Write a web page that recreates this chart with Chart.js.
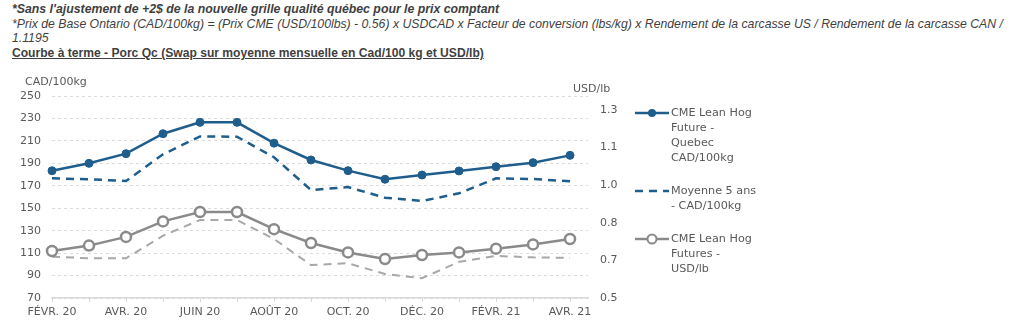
<!DOCTYPE html>
<html>
<head>
<meta charset="utf-8">
<script src="https://cdn.jsdelivr.net/npm/chart.js@4/dist/chart.umd.min.js"></script>
<style>
  body { margin: 0; background: #fff; width: 1024px; height: 330px; overflow: hidden; position: relative; }
  .note { position: absolute; left: 12px; font-family: "Liberation Sans", Arial, sans-serif; color: #3f3f3f; white-space: nowrap; }
  #n1 { top: 2px; font-size: 12.3px; font-weight: bold; font-style: italic; }
  #n2 { top: 17px; font-size: 12.25px; font-style: italic; }
  #n3 { top: 31px; font-size: 12.25px; font-style: italic; }
  #ttl { top: 46px; font-size: 12.1px; font-weight: bold; text-decoration: underline; }
  #wrap { position: absolute; left: 0; top: 60px; width: 1024px; height: 270px; }
</style>
</head>
<body>
<div class="note" id="n1">*Sans l'ajustement de +2$ de la nouvelle grille qualité québec pour le prix comptant</div>
<div class="note" id="n2">*Prix de Base Ontario (CAD/100kg) = (Prix CME (USD/100lbs) - 0.56) x USDCAD x Facteur de conversion (lbs/kg) x Rendement de la carcasse US / Rendement de la carcasse CAN /</div>
<div class="note" id="n3">1.1195</div>
<div class="note" id="ttl">Courbe à terme - Porc Qc (Swap sur moyenne mensuelle en Cad/100 kg et USD/lb)</div>
<div id="wrap"><canvas id="myChart"></canvas></div>
<script>
// months of the forward curve
var months = ['FÉVR. 20', 'MARS 20', 'AVR. 20', 'MAI 20', 'JUIN 20', 'JUIL. 20', 'AOÛT 20', 'SEPT. 20',
  'OCT. 20', 'NOV. 20', 'DÉC. 20', 'JANV. 21', 'FÉVR. 21', 'MARS 21', 'AVR. 21'];

// CAD/100kg
var hogCad = [183.4, 190, 198.6, 216.4, 226.5, 226.5, 208, 193, 183.5, 175.8, 179.6, 183.2, 187, 190.6, 197.1];
var avg5Cad = [176.6, 175.8, 174.3, 198, 214, 213.7, 195.4, 166.2, 168.8, 159.4, 156.4, 163.3, 176.6, 176, 174];

// USD/lb
var hogUsd = [0.700, 0.723, 0.760, 0.826, 0.866, 0.866, 0.793, 0.734, 0.694, 0.666, 0.683, 0.694, 0.710, 0.728, 0.751];
var avg5Usd = [0.676, 0.669, 0.669, 0.765, 0.832, 0.832, 0.751, 0.640, 0.648, 0.602, 0.584, 0.654, 0.679, 0.673, 0.671];

// axis ticks
var cadTicks = [70, 90, 110, 130, 150, 170, 190, 210, 230, 250];
var usdTicks = [0.5, 0.66, 0.82, 0.98, 1.14, 1.3];

var BLUE = '#1f5d8c';
var GREY = '#8a8a8a';
var GREY_DASH = '#a8a8a8';
var TXT = '#595959';

function pts(arr) {
  return arr.map(function(v, i) { return { x: i, y: v }; });
}

// axis titles above the plot + wrapped legend on the right
var extras = {
  id: 'extras',
  afterDraw: function(chart) {
    var c = chart.ctx;
    var a = chart.chartArea;
    c.save();
    c.fillStyle = TXT;
    c.font = '11px "DejaVu Sans"';
    c.textBaseline = 'middle';
    c.textAlign = 'left';
    c.fillText('CAD/100kg', 25, a.top - 14);
    c.fillText('USD/lb', a.right - 15, a.top - 7);

    var y = a.top + 17;
    chart.data.datasets.forEach(function(ds) {
      if (!ds.legendLines) return;
      var x0 = a.right + 47, x1 = a.right + 81;
      c.strokeStyle = ds.borderColor;
      c.lineWidth = 2.5;
      c.setLineDash(ds.borderDash || []);
      c.beginPath();
      c.moveTo(x0, y);
      c.lineTo(x1, y);
      c.stroke();
      c.setLineDash([]);
      if (ds.pointRadius) {
        c.beginPath();
        c.arc(x0 + 17, y, ds.legendDot, 0, Math.PI * 2);
        c.fillStyle = ds.pointBackgroundColor;
        c.fill();
        c.lineWidth = 2;
        c.strokeStyle = ds.pointBorderColor;
        c.stroke();
      }
      c.fillStyle = TXT;
      c.font = '11.2px "DejaVu Sans"';
      ds.legendLines.forEach(function(t, k) {
        c.fillText(t, x1 + 2, y + k * 15);
      });
      y += ds.legendLines.length * 15 + 18;
    });
    c.restore();
  }
};

Chart.defaults.font.family = '"DejaVu Sans"';
Chart.defaults.font.size = 11;
Chart.defaults.color = TXT;

var ctx = document.getElementById('myChart').getContext('2d');
var chart = new Chart(ctx, {
  type: 'line',
  data: {
    datasets: [
      {
        label: 'CME Lean Hog Future - Quebec CAD/100kg',
        legendLines: ['CME Lean Hog', 'Future -', 'Quebec', 'CAD/100kg'],
        legendDot: 3,
        data: pts(hogCad),
        yAxisID: 'yCad',
        borderColor: BLUE,
        borderWidth: 2.5,
        pointRadius: 4,
        pointBackgroundColor: BLUE,
        pointBorderColor: BLUE,
        pointBorderWidth: 1,
        clip: false
      },
      {
        label: 'Moyenne 5 ans - CAD/100kg',
        legendLines: ['Moyenne 5 ans', '- CAD/100kg'],
        data: pts(avg5Cad),
        yAxisID: 'yCad',
        borderColor: BLUE,
        borderWidth: 2.5,
        borderDash: [8, 6],
        pointRadius: 0,
        clip: false
      },
      {
        label: 'CME Lean Hog Futures - USD/lb',
        legendLines: ['CME Lean Hog', 'Futures -', 'USD/lb'],
        legendDot: 4.5,
        data: pts(hogUsd),
        yAxisID: 'yUsd',
        borderColor: GREY,
        borderWidth: 2.5,
        pointRadius: 5,
        pointBackgroundColor: '#fff',
        pointBorderColor: GREY,
        pointBorderWidth: 2.5,
        clip: false
      },
      {
        label: 'Moyenne 5 ans - USD/lb',
        data: pts(avg5Usd),
        yAxisID: 'yUsd',
        borderColor: GREY_DASH,
        borderWidth: 2,
        borderDash: [8, 6],
        pointRadius: 0,
        clip: false
      }
    ]
  },
  options: {
    responsive: true,
    maintainAspectRatio: false,
    animation: false,
    layout: { padding: { top: 36, right: 376, left: 0, bottom: 0 } },
    plugins: {
      legend: { display: false },
      tooltip: { enabled: false }
    },
    scales: {
      x: {
        type: 'linear',
        min: 0,
        max: 14.486,
        afterBuildTicks: function(axis) {
          axis.ticks = months.map(function(m, i) { return { value: i }; });
        },
        afterFit: function(axis) { axis.height = 32; },
        ticks: {
          autoSkip: false,
          maxRotation: 0,
          padding: 4,
          callback: function(v) { return v % 2 === 0 ? months[v] : ''; }
        },
        grid: { drawOnChartArea: false, tickLength: 4, color: '#d9d9d9' },
        border: { color: '#d9d9d9', width: 1.5 }
      },
      yCad: {
        position: 'left',
        min: 70,
        max: 250,
        afterBuildTicks: function(axis) {
          axis.ticks = cadTicks.map(function(v) { return { value: v }; });
        },
        afterFit: function(axis) { axis.width = 52; },
        ticks: { padding: 11 },
        grid: { color: '#dcdcdc', drawTicks: false },
        border: { display: false, dash: [3, 3] }
      },
      yUsd: {
        position: 'right',
        min: 0.5,
        max: 1.3596,
        afterBuildTicks: function(axis) {
          axis.ticks = usdTicks.map(function(v) { return { value: v }; });
        },
        afterFit: function(axis) { axis.width = 60; },
        ticks: {
          padding: 12,
          callback: function(v) { return v.toFixed(1); }
        },
        grid: { display: false, drawTicks: false },
        border: { display: false }
      }
    }
  },
  plugins: [extras]
});
</script>
</body>
</html>
